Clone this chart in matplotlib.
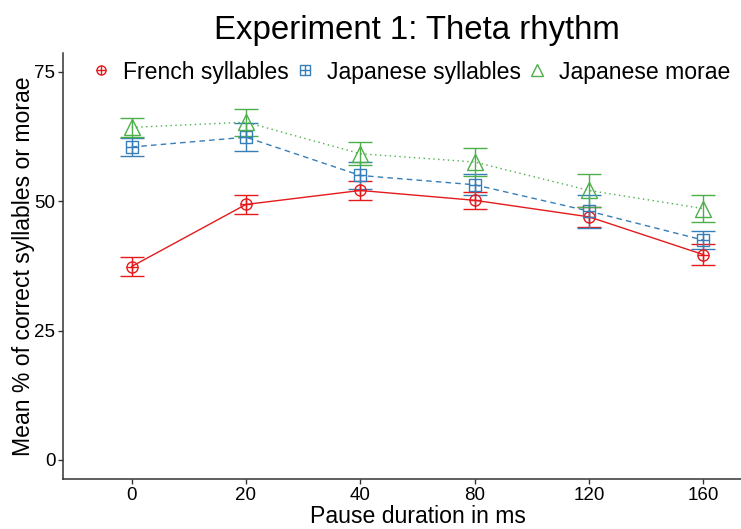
import matplotlib
matplotlib.use("Agg")
import matplotlib.pyplot as plt
from matplotlib.lines import Line2D
from matplotlib.legend_handler import HandlerTuple
import numpy as np

plt.rcParams['font.family'] = ['Liberation Sans', 'DejaVu Sans']

categories = ["0", "20", "40", "80", "120", "160"]
series_names = ["French syllables", "Japanese syllables", "Japanese morae"]
french = [37.4, 49.4, 52.1, 50.2, 47.0, 39.7]
french_err = [1.9, 1.8, 1.9, 1.6, 2.0, 2.0]
jap_syl = [60.5, 62.4, 55.0, 53.2, 48.1, 42.5]
jap_syl_err = [1.8, 2.7, 2.6, 2.0, 3.2, 1.7]
jap_mor = [64.3, 65.3, 59.2, 57.6, 52.1, 48.6]
jap_mor_err = [1.8, 2.6, 2.25, 2.7, 3.2, 2.6]
yticks = [0, 25, 50, 75]

colors = ["#E41A1C", "#377EB8", "#4DAF4A"]
linestyles = ["-", (0, (4, 3)), (0, (1, 2.5))]

W, H = 741, 529
fig = plt.figure(figsize=(W/100, H/100), dpi=100)
ax = fig.add_axes([63/W, 1-479.4/H, (772-63)/W, (479.4-52.6)/H])

x = np.arange(len(categories))
for vals, errs, c, ls, kind in zip([french, jap_syl, jap_mor],
                                   [french_err, jap_syl_err, jap_mor_err],
                                   colors, linestyles, ["c", "s", "t"]):
    ax.errorbar(x, vals, yerr=errs, color=c, linestyle='none', capsize=8.3,
                elinewidth=1.0, capthick=1.0, zorder=2)
    ax.plot(x, vals, color=c, linestyle=ls, linewidth=1.0, zorder=2)
    if kind == "c":
        ax.plot(x, vals, 'o', ms=8, mfc='none', mec=c, mew=1.0, ls='none', zorder=3)
        ax.plot(x, vals, '+', ms=8, mec=c, mew=1.0, ls='none', zorder=3)
    elif kind == "s":
        ax.plot(x, vals, 's', ms=8.5, mfc='none', mec=c, mew=1.0, ls='none', zorder=3)
        ax.plot(x, vals, '+', ms=8.5, mec=c, mew=1.0, ls='none', zorder=3)
    else:
        ax.plot(x, vals, '^', ms=11, mfc='none', mec=c, mew=1.0, ls='none', zorder=3)

ax.set_xlim(-0.6, 5.6)
ax.set_ylim(-3.75, 78.75)
ax.set_xticks(x)
ax.set_xticklabels(categories)
ax.set_yticks(yticks)
ax.tick_params(labelsize=13.5, color='#333333', length=3.5, width=1, labelcolor='black', pad=2)
for s in ['top', 'right']:
    ax.spines[s].set_visible(False)
for s in ['left', 'bottom']:
    ax.spines[s].set_color('#333333')
    ax.spines[s].set_linewidth(1.1)

ax.set_xlabel("Pause duration in ms", fontsize=16.6, labelpad=1)
ax.set_ylabel("Mean % of correct syllables or morae", fontsize=16.6)
ax.yaxis.label.set_va('center')
ax.yaxis.set_label_coords((23.5-63)/(772-63), 0.5)
fig.text(417/W, 1-39/H, "Experiment 1: Theta rhythm", fontsize=23.8, ha='center', va='baseline')

leg_handles = [
    (Line2D([], [], marker='o', ms=6.5, mfc='none', mec=colors[0], mew=1, ls='none'),
     Line2D([], [], marker='+', ms=6.5, mec=colors[0], mew=1, ls='none')),
    (Line2D([], [], marker='s', ms=6.5, mfc='none', mec=colors[1], mew=1, ls='none'),
     Line2D([], [], marker='+', ms=6.5, mec=colors[1], mew=1, ls='none')),
    (Line2D([], [], marker='^', ms=8, mfc='none', mec=colors[2], mew=1, ls='none'),),
]
fig.legend(leg_handles, series_names, handler_map={tuple: HandlerTuple(ndivide=1)},
           loc='center left', bbox_to_anchor=(92/W, 1-72/H), bbox_transform=fig.transFigure,
           ncol=3, frameon=False, borderpad=0, borderaxespad=0,
           fontsize=16.6, handlelength=0.8, handletextpad=0.55, columnspacing=0.3)

fig.savefig("out.png", dpi=100)
